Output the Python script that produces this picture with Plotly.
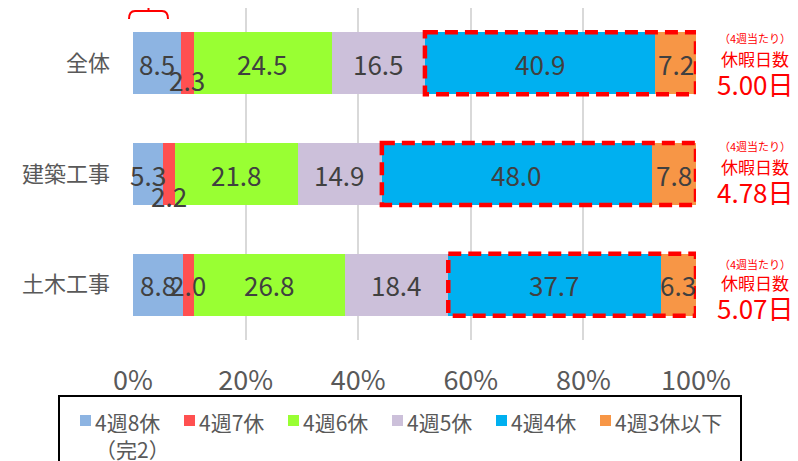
import plotly.graph_objects as go

# ---------------- data ----------------
categories = ["全体", "建築工事", "土木工事"]
series_names = ["4週8休<br>（完2）", "4週7休", "4週6休", "4週5休", "4週4休", "4週3休以下"]
v_8off = [8.5, 5.3, 8.8]
v_7off = [2.3, 2.2, 2.0]
v_6off = [24.5, 21.8, 26.8]
v_5off = [16.5, 14.9, 18.4]
v_4off = [40.9, 48.0, 37.7]
v_3off = [7.2, 7.8, 6.3]
holiday_days = [5.00, 4.78, 5.07]
x_tick_vals = [0, 20, 40, 60, 80, 100]
x_tick_text = ["0%", "20%", "40%", "60%", "80%", "100%"]

# ---------------- styles ----------------
colors = ["#8DB4E2", "#FF5050", "#99FF33", "#CCC0DA", "#00B0F0", "#F79646"]
FONT = "Noto Sans CJK JP"
GREY = "#595959"
LABEL = "#404040"
RED = "#FF0000"
# labels that the original pushed below the bar centre: (series, row) -> yshift px
shifted_labels = {(1, 0): -16, (1, 1): -21}
# y shifts of the three right-hand note lines per row
note_shifts = [(25, 5, -20), (28, 8, -17), (21, 2, -23)]

# page geometry (the page body adds an 8px margin)
W, H = 790, 453
PL, PR, PT, PB = 125, 102, 0, 121
PLOT_X0 = 8 + PL                 # page x of 0%
PLOT_W = W - PL - PR
PLOT_Y1 = 8 + H - PB             # page y of plot bottom
PLOT_H = H - PT - PB


def px(x):
    return (x - PLOT_X0) / PLOT_W


def py(y):
    return (PLOT_Y1 - y) / PLOT_H


series = [v_8off, v_7off, v_6off, v_5off, v_4off, v_3off]
totals = [sum(s[r] for s in series) for r in range(len(categories))]

fig = go.Figure()
for si, (name, vals) in enumerate(zip(series_names, series)):
    fig.add_trace(go.Bar(
        y=categories, x=vals, name=name, orientation="h",
        marker=dict(color=colors[si], line=dict(width=0)),
        showlegend=False, hoverinfo="skip",
    ))

annotations = []
shapes = []
half = 0.28
for ri, cat in enumerate(categories):
    cum = 0.0
    starts = []
    for si, vals in enumerate(series):
        starts.append(cum)
        v = vals[ri] / totals[ri] * 100
        annotations.append(dict(
            x=cum + v / 2, y=cat, xref="x", yref="y", text=f"{vals[ri]:.1f}",
            showarrow=False, xanchor="center", yshift=shifted_labels.get((si, ri), 0),
            font=dict(family=FONT, size=26, color=LABEL)))
        cum += v
    # red dashed box round 4週4休 + 4週3休以下
    shapes.append(dict(
        type="rect", xref="x", yref="y", x0=starts[4], x1=cum,
        y0=ri - half, y1=ri + half,
        line=dict(color=RED, width=4.5, dash="13px,7px"), layer="above"))
    s1, s2, s3 = note_shifts[ri]
    annotations += [
        dict(x=px(755), y=cat, xref="paper", yref="y", text="（4週当たり）", showarrow=False,
             xanchor="center", yshift=s1, font=dict(family=FONT, size=11, color=RED)),
        dict(x=px(755), y=cat, xref="paper", yref="y", text="休暇日数", showarrow=False,
             xanchor="center", yshift=s2, font=dict(family=FONT, size=17, color=RED)),
        dict(x=px(755), y=cat, xref="paper", yref="y", text=f"{holiday_days[ri]:.2f}日",
             showarrow=False, xanchor="center", yshift=s3,
             font=dict(family=FONT, size=26, color=RED)),
    ]

# small red bracket above the first segment
bx0, bx1, bxm = px(129), px(168), px(148.5)
by_lo, by_hi, by_top = py(19), py(11), py(0)
shapes.append(dict(
    type="path", xref="paper", yref="paper",
    path=(f"M {bx0},{by_lo} Q {bx0},{by_hi} {px(135)},{by_hi} L {px(162)},{by_hi} "
          f"Q {bx1},{by_hi} {bx1},{by_lo} M {bxm},{by_hi} L {bxm},{by_top}"),
    line=dict(color=RED, width=2)))

# legend: frame (runs past the bottom edge), swatches and labels
shapes.append(dict(
    type="rect", xref="paper", yref="paper", x0=px(59), x1=px(741), y0=py(520), y1=py(396),
    line=dict(color="#000000", width=2), layer="below"))
LEG_X0, LEG_STEP, SW = 80, 104, 11
for si, name in enumerate(series_names):
    sx = LEG_X0 + si * LEG_STEP
    shapes.append(dict(
        type="rect", xref="paper", yref="paper", x0=px(sx), x1=px(sx + SW),
        y0=py(426), y1=py(415), line=dict(width=0), fillcolor=colors[si]))
    annotations.append(dict(
        x=px(sx + SW + 2), y=py(405), xref="paper", yref="paper", text=name,
        showarrow=False, xanchor="left", yanchor="top", align="left",
        font=dict(family=FONT, size=21, color=GREY)))

fig.update_layout(
    width=W, height=H,
    margin=dict(l=PL, r=PR, t=PT, b=PB, autoexpand=False),
    barmode="stack", barnorm="percent", bargap=0.44,
    plot_bgcolor="white", paper_bgcolor="white",
    font=dict(family=FONT, color=GREY),
    showlegend=False,
    xaxis=dict(
        range=[0, 100], tickvals=x_tick_vals, ticktext=x_tick_text,
        showgrid=True, gridcolor="#D9D9D9", gridwidth=1.5,
        zeroline=False, showline=False, ticks="",
        tickfont=dict(family=FONT, size=27, color=GREY), ticklabelstandoff=22,
    ),
    yaxis=dict(
        categoryorder="array", categoryarray=categories, autorange="reversed",
        showgrid=False, zeroline=False, showline=False, ticks="",
        tickfont=dict(family=FONT, size=22, color=GREY), ticklabelstandoff=22,
    ),
    annotations=annotations, shapes=shapes,
)

fig.write_html("out.html")
